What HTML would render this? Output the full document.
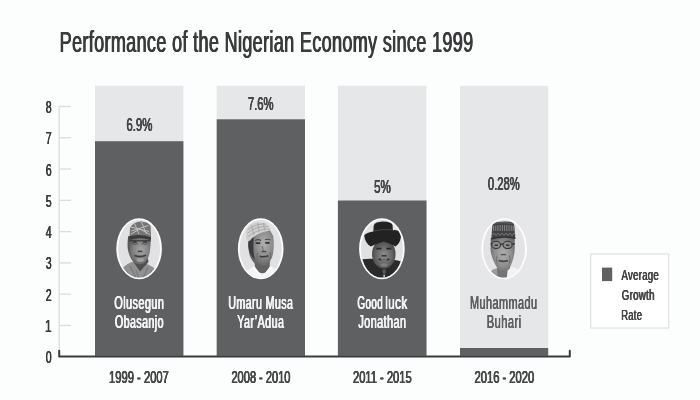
<!DOCTYPE html>
<html><head><meta charset="utf-8"><title>Performance of the Nigerian Economy since 1999</title>
<style>
html,body{margin:0;padding:0;background:#fcfdfd;}
body{width:700px;height:400px;overflow:hidden;font-family:"Liberation Sans",sans-serif;}
svg{display:block;will-change:transform;}
text{font-family:"Liberation Sans",sans-serif;}
</style></head><body>
<svg width="700" height="400" viewBox="0 0 700 400">
<rect width="700" height="400" fill="#fcfdfd"/>
<rect x="95" y="85.8" width="88.40" height="270.00" fill="#e6e7e8"/>
<rect x="95" y="141.2" width="88.40" height="214.60" fill="#5f6062"/>
<rect x="216.7" y="85.8" width="88.30" height="270.00" fill="#e6e7e8"/>
<rect x="216.7" y="119.3" width="88.30" height="236.50" fill="#5f6062"/>
<rect x="337.9" y="85.8" width="88.60" height="270.00" fill="#e6e7e8"/>
<rect x="337.9" y="200.5" width="88.60" height="155.30" fill="#5f6062"/>
<rect x="460" y="85.8" width="88.20" height="270.00" fill="#e6e7e8"/>
<rect x="460" y="348.0" width="88.20" height="7.80" fill="#5f6062"/>
<path d="M59.2 106.5V352" stroke="#dcdde1" stroke-width="1.4" fill="none"/>
<path d="M59.2 106.50H71" stroke="#dcdde1" stroke-width="1.4" fill="none"/>
<path d="M59.2 137.78H71" stroke="#dcdde1" stroke-width="1.4" fill="none"/>
<path d="M59.2 169.06H71" stroke="#dcdde1" stroke-width="1.4" fill="none"/>
<path d="M59.2 200.34H71" stroke="#dcdde1" stroke-width="1.4" fill="none"/>
<path d="M59.2 231.62H71" stroke="#dcdde1" stroke-width="1.4" fill="none"/>
<path d="M59.2 262.90H71" stroke="#dcdde1" stroke-width="1.4" fill="none"/>
<path d="M59.2 294.18H71" stroke="#dcdde1" stroke-width="1.4" fill="none"/>
<path d="M59.2 325.46H71" stroke="#dcdde1" stroke-width="1.4" fill="none"/>
<path d="M59.2 350.8V356.6H569.8V350.8" stroke="#3a3a3c" stroke-width="2" stroke-linejoin="round" stroke-linecap="round" fill="none"/>
<rect x="590.7" y="254" width="78" height="74" fill="#ffffff" stroke="#e1e2e5" stroke-width="1.3"/>
<rect x="602" y="267.6" width="10.2" height="13.5" fill="#5f6062"/>
<defs>
<filter id="bl" x="-10%" y="-10%" width="120%" height="120%"><feGaussianBlur stdDeviation="0.55"/></filter>
<filter id="bl2" x="-20%" y="-20%" width="140%" height="140%"><feGaussianBlur stdDeviation="1.2"/></filter>
<clipPath id="c1"><ellipse cx="139.1" cy="248.7" rx="21" ry="28.9"/></clipPath>
<clipPath id="c2"><ellipse cx="260.7" cy="248.7" rx="21" ry="28.9"/></clipPath>
<clipPath id="c3"><ellipse cx="381.9" cy="248.7" rx="21" ry="28.9"/></clipPath>
<clipPath id="c4"><ellipse cx="504.1" cy="248.7" rx="21" ry="28.9"/></clipPath>
<radialGradient id="f1" cx="0.58" cy="0.5" r="0.62"><stop offset="0" stop-color="#a6a6a7"/><stop offset="0.55" stop-color="#828283"/><stop offset="1" stop-color="#525253"/></radialGradient>
<radialGradient id="f2" cx="0.62" cy="0.42" r="0.66"><stop offset="0" stop-color="#b2b2b3"/><stop offset="0.5" stop-color="#8c8c8d"/><stop offset="1" stop-color="#5a5a5b"/></radialGradient>
<radialGradient id="f3" cx="0.5" cy="0.55" r="0.6"><stop offset="0" stop-color="#909091"/><stop offset="0.55" stop-color="#666667"/><stop offset="1" stop-color="#3c3c3d"/></radialGradient>
<radialGradient id="f4" cx="0.52" cy="0.5" r="0.64"><stop offset="0" stop-color="#b0b0b1"/><stop offset="0.55" stop-color="#8e8e8f"/><stop offset="1" stop-color="#5e5e5f"/></radialGradient>
</defs>
<!-- Portrait 1 -->
<ellipse cx="139.1" cy="248.7" rx="22.8" ry="30.5" fill="#fdfdfd"/>
<g clip-path="url(#c1)">
<rect x="115" y="216" width="50" height="66" fill="#e1e1e3"/>
<g filter="url(#bl)">
<path d="M120.5 282 L123 267.5 Q128 263 133 261.5 L147 264 Q153 266.5 156 270 L158 282Z" fill="#909091"/>
<path d="M126 270 l5 9 M152 270 l-4 9 M124 274 l3 6 M130 266 l6 12 M148 267 l-5 11 M136 270 l3 9" stroke="#747475" stroke-width="1" fill="none"/>
<path d="M131.5 259 L140 271.5 L148.5 262 L147.5 255 L132.5 255Z" fill="#505051"/>
<path d="M128.2 236 Q126.8 246 128.4 252 Q130.4 259.5 135 263 Q139.5 265.6 144 263.2 Q148.4 259.8 149.8 252 Q151 244 150.6 236Z" fill="url(#f1)"/>
<path d="M128.6 250 Q127.4 246.5 128.4 243.5 L129.6 243.5 L130 250.5Z" fill="#59595a"/>
<path d="M129.6 236.8 L130 228 Q133 222 141 221.6 Q148.4 222 150.6 226 L151 237.8 Q140 234 129.6 236.8Z" fill="#747475"/>
<path d="M131.5 231 L148.4 225.5 M131 227 L149 231.5 M134.5 223.5 L139 234 M141.5 222 L146.4 234 M131 234 L140 229 L150 234.5" stroke="#bfbfc0" stroke-width="1" fill="none"/>
<path d="M129.4 236.4 Q140 233.2 151 237.2 L150.8 240 Q140 236.4 129.6 239.8Z" fill="#3b3b3c"/>
<path d="M129.6 240.8 H150.6" stroke="#383839" stroke-width="1.2"/>
<path d="M131.2 243.6 Q134.6 245 138 243.6 M141.4 243.6 Q144.8 245 148.2 243.6" stroke="#49494a" stroke-width="0.8" fill="none"/>
<path d="M132.8 242 h3.8 M143 242 h3.8" stroke="#343435" stroke-width="1.5"/>
<path d="M137.8 251.4 h4.6" stroke="#404041" stroke-width="1.5"/>
<path d="M134.4 255.6 Q140 257.8 146 255.2" stroke="#3a3a3b" stroke-width="1.6" fill="none"/>
<ellipse cx="140.3" cy="260" rx="3.6" ry="1.9" fill="#a0a0a1"/>
</g>
</g>
<!-- Portrait 2 -->
<ellipse cx="260.7" cy="248.7" rx="22.8" ry="30.5" fill="#fdfdfd"/>
<g clip-path="url(#c2)">
<rect x="236" y="216" width="50" height="66" fill="#e1e1e3"/>
<g filter="url(#bl)">
<path d="M241 282 L243.5 273.5 Q249 268 256 266 L270 266 Q277 268.5 279.5 274 L281.5 282Z" fill="#f4f4f5"/>
<path d="M254.6 259 L255 269.5 Q262.4 277 269.6 269.5 L270 258Z" fill="#626263"/>
<path d="M253.6 267 L262.4 278.5 L271 267" stroke="#fafafa" stroke-width="2.2" fill="none"/>
<path d="M248.8 238 Q247.6 248 249.6 255 Q252 262 257 265.2 Q261.5 267.2 266 265.2 Q271 262 273 254 Q274.4 246 273.2 236 L268.5 227.5 L250 239Z" fill="url(#f2)"/>
<path d="M248.4 247 Q247.8 240 250 237.6 L253.6 236.6 L253.4 249 Q253.4 255 255 259.5 Q249.4 255.5 248.4 247Z" fill="#3b3b3c"/>
<path d="M245.8 236.4 L246.4 229.4 Q248.5 225.5 252 223.8 Q257 221.6 262.4 222.4 Q267 223.4 269 226 L270 230.4 Q262 231.4 256 235 Q251.5 238 249.6 241 L246.8 240.4Z" fill="#d0d0d1"/>
<path d="M247.4 233.4 Q256 225.6 268.6 226.6 M247.6 237 Q256.5 229 269.6 229 M251.6 225.4 l2.4 9.6 M257.6 222.8 l1.6 9 M263.6 222.8 l1 7.6 M248.4 229.4 Q256 223.5 266 224" stroke="#a6a6a7" stroke-width="0.9" fill="none"/>
<path d="M255 240.4 Q258 238.8 261 240.4 M265 239.8 Q267.8 238.6 270.4 240" stroke="#4a4a4b" stroke-width="1.1" fill="none"/>
<path d="M255.6 243.2 h4.6 M265.2 242.8 h4.4" stroke="#333334" stroke-width="1.7"/>
<path d="M262.4 246 L263.4 251" stroke="#707071" stroke-width="1" fill="none"/>
<path d="M261.6 251.6 h4.6" stroke="#4a4a4b" stroke-width="1.4"/>
<path d="M259.6 256.2 Q264 257.6 268.4 255.8" stroke="#3d3d3e" stroke-width="1.6" fill="none"/>
<path d="M257.6 252.5 Q256.6 256 257.8 259.5 M270 252 Q271 255.5 270 259" stroke="#68686a" stroke-width="0.9" fill="none"/>
</g>
</g>
<!-- Portrait 3 -->
<ellipse cx="381.9" cy="248.7" rx="22.8" ry="30.5" fill="#fdfdfd"/>
<g clip-path="url(#c3)">
<rect x="357" y="216" width="50" height="66" fill="#e1e1e3"/>
<g filter="url(#bl)">
<path d="M359 282 L361 259.5 Q368 258.5 375 259 L391 259.5 Q398 260 404 262.5 L405 282Z" fill="#29292a"/>
<ellipse cx="383.8" cy="254" rx="11.8" ry="14.4" fill="url(#f3)"/>
<path d="M364.2 235.2 Q364.8 243 371 246.6 Q376.6 243.2 383.6 241.4 Q390 242.8 395.4 246.6 Q399.6 244 400.8 238 Q401.4 234.6 400.8 232.2 Q397 229.6 392.8 230.2 L392.6 225.2 Q391.6 221.8 383 221.6 Q374 222 373.6 226.2 L373.4 231.4 Q367.6 232 364.2 235.2Z" fill="#232324"/>
<path d="M373.6 231 Q383.4 228.6 392.8 229.8" stroke="#474748" stroke-width="1" fill="none"/>
<path d="M376.4 248.6 h5 M386.4 248.6 h5" stroke="#2a2a2b" stroke-width="1.6"/>
<path d="M381.6 255.8 h5" stroke="#363637" stroke-width="1.6"/>
<path d="M378.8 259 Q384 261.6 389.2 259" stroke="#2d2d2e" stroke-width="1.9" fill="none"/><path d="M381 259.8 Q384 260.8 387 259.8" stroke="#a8a8a9" stroke-width="0.9" fill="none"/>
<ellipse cx="384" cy="265" rx="3.6" ry="1.5" fill="#808081"/>
<path d="M382.2 269.5 L384.2 280 L386.2 269.5Z" fill="#555556"/>
<circle cx="384.2" cy="276" r="0.9" fill="#cfcfd0"/>
</g>
</g>
<!-- Portrait 4 -->
<ellipse cx="504.1" cy="248.7" rx="22.8" ry="30.5" fill="#fdfdfd"/>
<g clip-path="url(#c4)">
<rect x="479" y="216" width="50" height="66" fill="#e3e3e5"/>
<g filter="url(#bl)">
<path d="M485 282 L487.5 274 Q494 268 501 266.5 L513 267.5 Q520 270 522.5 275 L524.5 282Z" fill="#f0f0f1"/>
<path d="M486.5 282 L489 272.5 Q493.5 268.5 499 267.5 L502 282Z" fill="#9b9b9c"/>
<path d="M497 260 L497.4 282 L509.6 282 L510 260Z" fill="#747475"/><path d="M506.5 282 L507.5 270.5 Q510 267.6 513 267.6 Q519.6 270 522.5 275 L524.5 282Z" fill="#f3f3f4"/>
<path d="M490.8 238 L490.5 250 Q491.5 258.5 496 266 Q499.5 271.6 503.5 271.6 Q508 271.2 510.6 266 Q514.2 258 514.7 250 L514.7 237Z" fill="url(#f4)"/>
<path d="M491.3 238.6 L492.4 225.6 Q492.8 222.6 497.4 222 Q504 221 510 221.8 Q513.8 222.4 514.3 225.4 L515.3 238.2 Q503.4 235.4 491.3 238.6Z" fill="#434344"/>
<path d="M493.6 225.6 v5.4 M495.8 225.4 v5.6 M498 225.2 v5.8 M500.2 225 v6 M502.4 225 v6 M504.6 225 v6 M506.8 225 v6 M509 225.2 v5.8 M511.2 225.4 v5.6 M513.2 225.6 v5.4" stroke="#8e8e8f" stroke-width="0.9" fill="none"/><path d="M492 235.5 l2 -2.4 l2 2.4 l2 -2.4 l2 2.4 l2 -2.4 l2 2.4 l2 -2.4 l2 2.4 l2 -2.4 l2 2.4 l2 -2.4 l1.4 1.8" stroke="#858586" stroke-width="0.8" fill="none"/><path d="M493 223.4 Q503 221.8 513.6 223.4" stroke="#6c6c6d" stroke-width="0.8" fill="none"/>
<path d="M491.2 238.8 Q503.4 235.6 515.4 238.4" stroke="#2f2f30" stroke-width="1.3" fill="none"/>
<ellipse cx="496.2" cy="244.9" rx="4.4" ry="3.6" fill="#8a8a8b" stroke="#353536" stroke-width="1.1"/>
<ellipse cx="507.6" cy="244.9" rx="4.6" ry="3.6" fill="#8a8a8b" stroke="#353536" stroke-width="1.1"/>
<path d="M500.6 244.2 h2.4 M490.6 243.8 h1.4 M512.2 243.8 h2.6" stroke="#2e2e2f" stroke-width="1.2"/>
<path d="M494.6 245.2 h3.4 M506 245.2 h3.4" stroke="#39393a" stroke-width="1.4"/>
<path d="M500.8 254.6 h5" stroke="#505051" stroke-width="1.4"/>
<path d="M498.6 260.6 Q503.4 262.2 508 260.6" stroke="#464647" stroke-width="1.6" fill="none"/>
<path d="M497 255.5 Q495.6 259.5 497.2 263.5 M509.4 255.5 Q510.8 259.5 509.2 263.5" stroke="#6a6a6b" stroke-width="0.9" fill="none"/>
</g>
</g>

<text transform="translate(59.27,51.60) scale(0.6170,1)" font-size="29.2" letter-spacing="0.58" fill="#3b3b3d">Performance of the Nigerian Economy since 1999</text>
<text transform="translate(59.67,51.60) scale(0.6170,1)" font-size="29.2" letter-spacing="0.58" fill="#3b3b3d">Performance of the Nigerian Economy since 1999</text>
<text transform="translate(60.07,51.60) scale(0.6170,1)" font-size="29.2" letter-spacing="0.58" fill="#3b3b3d">Performance of the Nigerian Economy since 1999</text>
<text transform="translate(45.40,113.00) scale(0.6333,1)" font-size="16.7" fill="#3b3b3d">8</text>
<text transform="translate(45.65,113.00) scale(0.6333,1)" font-size="16.7" fill="#3b3b3d">8</text>
<text transform="translate(45.90,113.00) scale(0.6333,1)" font-size="16.7" fill="#3b3b3d">8</text>
<text transform="translate(45.40,144.28) scale(0.6333,1)" font-size="16.7" fill="#3b3b3d">7</text>
<text transform="translate(45.65,144.28) scale(0.6333,1)" font-size="16.7" fill="#3b3b3d">7</text>
<text transform="translate(45.90,144.28) scale(0.6333,1)" font-size="16.7" fill="#3b3b3d">7</text>
<text transform="translate(45.40,175.56) scale(0.6333,1)" font-size="16.7" fill="#3b3b3d">6</text>
<text transform="translate(45.65,175.56) scale(0.6333,1)" font-size="16.7" fill="#3b3b3d">6</text>
<text transform="translate(45.90,175.56) scale(0.6333,1)" font-size="16.7" fill="#3b3b3d">6</text>
<text transform="translate(45.40,206.84) scale(0.6333,1)" font-size="16.7" fill="#3b3b3d">5</text>
<text transform="translate(45.65,206.84) scale(0.6333,1)" font-size="16.7" fill="#3b3b3d">5</text>
<text transform="translate(45.90,206.84) scale(0.6333,1)" font-size="16.7" fill="#3b3b3d">5</text>
<text transform="translate(45.40,238.12) scale(0.6333,1)" font-size="16.7" fill="#3b3b3d">4</text>
<text transform="translate(45.65,238.12) scale(0.6333,1)" font-size="16.7" fill="#3b3b3d">4</text>
<text transform="translate(45.90,238.12) scale(0.6333,1)" font-size="16.7" fill="#3b3b3d">4</text>
<text transform="translate(45.40,269.40) scale(0.6333,1)" font-size="16.7" fill="#3b3b3d">3</text>
<text transform="translate(45.65,269.40) scale(0.6333,1)" font-size="16.7" fill="#3b3b3d">3</text>
<text transform="translate(45.90,269.40) scale(0.6333,1)" font-size="16.7" fill="#3b3b3d">3</text>
<text transform="translate(45.40,300.68) scale(0.6333,1)" font-size="16.7" fill="#3b3b3d">2</text>
<text transform="translate(45.65,300.68) scale(0.6333,1)" font-size="16.7" fill="#3b3b3d">2</text>
<text transform="translate(45.90,300.68) scale(0.6333,1)" font-size="16.7" fill="#3b3b3d">2</text>
<text transform="translate(44.69,331.96) scale(0.7125,1)" font-size="16.7" fill="#3b3b3d">1</text>
<text transform="translate(44.94,331.96) scale(0.7125,1)" font-size="16.7" fill="#3b3b3d">1</text>
<text transform="translate(45.19,331.96) scale(0.7125,1)" font-size="16.7" fill="#3b3b3d">1</text>
<text transform="translate(45.40,363.24) scale(0.6333,1)" font-size="16.7" fill="#3b3b3d">0</text>
<text transform="translate(45.65,363.24) scale(0.6333,1)" font-size="16.7" fill="#3b3b3d">0</text>
<text transform="translate(45.90,363.24) scale(0.6333,1)" font-size="16.7" fill="#3b3b3d">0</text>
<text transform="translate(126.20,130.80) scale(0.6509,1)" font-size="17.5" fill="#464648" stroke="#464648" stroke-width="0.12" stroke-linejoin="round">6.9%</text>
<text transform="translate(126.40,130.80) scale(0.6509,1)" font-size="17.5" fill="#464648" stroke="#464648" stroke-width="0.12" stroke-linejoin="round">6.9%</text>
<text transform="translate(126.60,130.80) scale(0.6509,1)" font-size="17.5" fill="#464648" stroke="#464648" stroke-width="0.12" stroke-linejoin="round">6.9%</text>
<text transform="translate(247.70,110.00) scale(0.6433,1)" font-size="17.5" fill="#464648" stroke="#464648" stroke-width="0.12" stroke-linejoin="round">7.6%</text>
<text transform="translate(247.90,110.00) scale(0.6433,1)" font-size="17.5" fill="#464648" stroke="#464648" stroke-width="0.12" stroke-linejoin="round">7.6%</text>
<text transform="translate(248.10,110.00) scale(0.6433,1)" font-size="17.5" fill="#464648" stroke="#464648" stroke-width="0.12" stroke-linejoin="round">7.6%</text>
<text transform="translate(373.90,192.50) scale(0.6631,1)" font-size="17.5" fill="#464648" stroke="#464648" stroke-width="0.12" stroke-linejoin="round">5%</text>
<text transform="translate(374.10,192.50) scale(0.6631,1)" font-size="17.5" fill="#464648" stroke="#464648" stroke-width="0.12" stroke-linejoin="round">5%</text>
<text transform="translate(374.30,192.50) scale(0.6631,1)" font-size="17.5" fill="#464648" stroke="#464648" stroke-width="0.12" stroke-linejoin="round">5%</text>
<text transform="translate(487.70,190.00) scale(0.6421,1)" font-size="17.5" fill="#464648" stroke="#464648" stroke-width="0.12" stroke-linejoin="round">0.28%</text>
<text transform="translate(487.90,190.00) scale(0.6421,1)" font-size="17.5" fill="#464648" stroke="#464648" stroke-width="0.12" stroke-linejoin="round">0.28%</text>
<text transform="translate(488.10,190.00) scale(0.6421,1)" font-size="17.5" fill="#464648" stroke="#464648" stroke-width="0.12" stroke-linejoin="round">0.28%</text>
<text transform="translate(114.00,308.60) scale(0.5799,1)" font-size="18.75" letter-spacing="0.75" fill="#f4f4f4">Olusegun</text>
<text transform="translate(114.33,308.60) scale(0.5799,1)" font-size="18.75" letter-spacing="0.75" fill="#f4f4f4">Olusegun</text>
<text transform="translate(114.66,308.60) scale(0.5799,1)" font-size="18.75" letter-spacing="0.75" fill="#f4f4f4">Olusegun</text>
<text transform="translate(114.60,327.90) scale(0.5681,1)" font-size="18.75" letter-spacing="0.75" fill="#f4f4f4">Obasanjo</text>
<text transform="translate(114.93,327.90) scale(0.5681,1)" font-size="18.75" letter-spacing="0.75" fill="#f4f4f4">Obasanjo</text>
<text transform="translate(115.26,327.90) scale(0.5681,1)" font-size="18.75" letter-spacing="0.75" fill="#f4f4f4">Obasanjo</text>
<text transform="translate(228.03,308.60) scale(0.5662,1)" font-size="18.75" letter-spacing="0.75" fill="#f4f4f4">Umaru Musa</text>
<text transform="translate(228.36,308.60) scale(0.5662,1)" font-size="18.75" letter-spacing="0.75" fill="#f4f4f4">Umaru Musa</text>
<text transform="translate(228.69,308.60) scale(0.5662,1)" font-size="18.75" letter-spacing="0.75" fill="#f4f4f4">Umaru Musa</text>
<text transform="translate(236.90,327.90) scale(0.5718,1)" font-size="18.75" letter-spacing="0.75" fill="#f4f4f4">Yar’Adua</text>
<text transform="translate(237.23,327.90) scale(0.5718,1)" font-size="18.75" letter-spacing="0.75" fill="#f4f4f4">Yar’Adua</text>
<text transform="translate(237.56,327.90) scale(0.5718,1)" font-size="18.75" letter-spacing="0.75" fill="#f4f4f4">Yar’Adua</text>
<text transform="translate(357.10,308.60) scale(0.5251,1)" font-size="18.75" letter-spacing="0.75" fill="#f4f4f4">Good</text>
<text transform="translate(357.43,308.60) scale(0.5251,1)" font-size="18.75" letter-spacing="0.75" fill="#f4f4f4">Good</text>
<text transform="translate(357.76,308.60) scale(0.5251,1)" font-size="18.75" letter-spacing="0.75" fill="#f4f4f4">Good</text>
<text transform="translate(384.88,308.60) scale(0.6173,1)" font-size="18.75" letter-spacing="0.75" fill="#f4f4f4">luck</text>
<text transform="translate(385.21,308.60) scale(0.6173,1)" font-size="18.75" letter-spacing="0.75" fill="#f4f4f4">luck</text>
<text transform="translate(385.54,308.60) scale(0.6173,1)" font-size="18.75" letter-spacing="0.75" fill="#f4f4f4">luck</text>
<text transform="translate(358.10,327.90) scale(0.5775,1)" font-size="18.75" letter-spacing="0.75" fill="#f4f4f4">Jonathan</text>
<text transform="translate(358.43,327.90) scale(0.5775,1)" font-size="18.75" letter-spacing="0.75" fill="#f4f4f4">Jonathan</text>
<text transform="translate(358.76,327.90) scale(0.5775,1)" font-size="18.75" letter-spacing="0.75" fill="#f4f4f4">Jonathan</text>
<text transform="translate(469.82,308.60) scale(0.5816,1)" font-size="18.75" letter-spacing="0.75" fill="#5e5f61">Muhammadu</text>
<text transform="translate(470.02,308.60) scale(0.5816,1)" font-size="18.75" letter-spacing="0.75" fill="#5e5f61">Muhammadu</text>
<text transform="translate(470.22,308.60) scale(0.5816,1)" font-size="18.75" letter-spacing="0.75" fill="#5e5f61">Muhammadu</text>
<text transform="translate(486.50,327.90) scale(0.5952,1)" font-size="18.75" letter-spacing="0.75" fill="#5e5f61">Buhari</text>
<text transform="translate(486.70,327.90) scale(0.5952,1)" font-size="18.75" letter-spacing="0.75" fill="#5e5f61">Buhari</text>
<text transform="translate(486.90,327.90) scale(0.5952,1)" font-size="18.75" letter-spacing="0.75" fill="#5e5f61">Buhari</text>
<text transform="translate(108.84,383.20) scale(0.6626,1)" font-size="16.9" fill="#48484a" stroke="#48484a" stroke-width="0.15" stroke-linejoin="round">1999 - 2007</text>
<text transform="translate(109.08,383.20) scale(0.6626,1)" font-size="16.9" fill="#48484a" stroke="#48484a" stroke-width="0.15" stroke-linejoin="round">1999 - 2007</text>
<text transform="translate(109.32,383.20) scale(0.6626,1)" font-size="16.9" fill="#48484a" stroke="#48484a" stroke-width="0.15" stroke-linejoin="round">1999 - 2007</text>
<text transform="translate(231.20,383.20) scale(0.6553,1)" font-size="16.9" fill="#48484a" stroke="#48484a" stroke-width="0.15" stroke-linejoin="round">2008 - 2010</text>
<text transform="translate(231.44,383.20) scale(0.6553,1)" font-size="16.9" fill="#48484a" stroke="#48484a" stroke-width="0.15" stroke-linejoin="round">2008 - 2010</text>
<text transform="translate(231.68,383.20) scale(0.6553,1)" font-size="16.9" fill="#48484a" stroke="#48484a" stroke-width="0.15" stroke-linejoin="round">2008 - 2010</text>
<text transform="translate(352.70,383.20) scale(0.6617,1)" font-size="16.9" fill="#48484a" stroke="#48484a" stroke-width="0.15" stroke-linejoin="round">2011 - 2015</text>
<text transform="translate(352.94,383.20) scale(0.6617,1)" font-size="16.9" fill="#48484a" stroke="#48484a" stroke-width="0.15" stroke-linejoin="round">2011 - 2015</text>
<text transform="translate(353.18,383.20) scale(0.6617,1)" font-size="16.9" fill="#48484a" stroke="#48484a" stroke-width="0.15" stroke-linejoin="round">2011 - 2015</text>
<text transform="translate(474.20,383.20) scale(0.6642,1)" font-size="16.9" fill="#48484a" stroke="#48484a" stroke-width="0.15" stroke-linejoin="round">2016 - 2020</text>
<text transform="translate(474.44,383.20) scale(0.6642,1)" font-size="16.9" fill="#48484a" stroke="#48484a" stroke-width="0.15" stroke-linejoin="round">2016 - 2020</text>
<text transform="translate(474.68,383.20) scale(0.6642,1)" font-size="16.9" fill="#48484a" stroke="#48484a" stroke-width="0.15" stroke-linejoin="round">2016 - 2020</text>
<text transform="translate(621.25,279.50) scale(0.6299,1)" font-size="15.2" letter-spacing="0.46" fill="#464648">Average</text>
<text transform="translate(621.55,279.50) scale(0.6299,1)" font-size="15.2" letter-spacing="0.46" fill="#464648">Average</text>
<text transform="translate(621.85,279.50) scale(0.6299,1)" font-size="15.2" letter-spacing="0.46" fill="#464648">Average</text>
<text transform="translate(621.50,299.50) scale(0.6380,1)" font-size="15.2" letter-spacing="0.46" fill="#464648">Growth</text>
<text transform="translate(621.80,299.50) scale(0.6380,1)" font-size="15.2" letter-spacing="0.46" fill="#464648">Growth</text>
<text transform="translate(622.10,299.50) scale(0.6380,1)" font-size="15.2" letter-spacing="0.46" fill="#464648">Growth</text>
<text transform="translate(620.88,319.50) scale(0.6218,1)" font-size="15.2" letter-spacing="0.46" fill="#464648">Rate</text>
<text transform="translate(621.18,319.50) scale(0.6218,1)" font-size="15.2" letter-spacing="0.46" fill="#464648">Rate</text>
<text transform="translate(621.48,319.50) scale(0.6218,1)" font-size="15.2" letter-spacing="0.46" fill="#464648">Rate</text>
</svg>
</body></html>
